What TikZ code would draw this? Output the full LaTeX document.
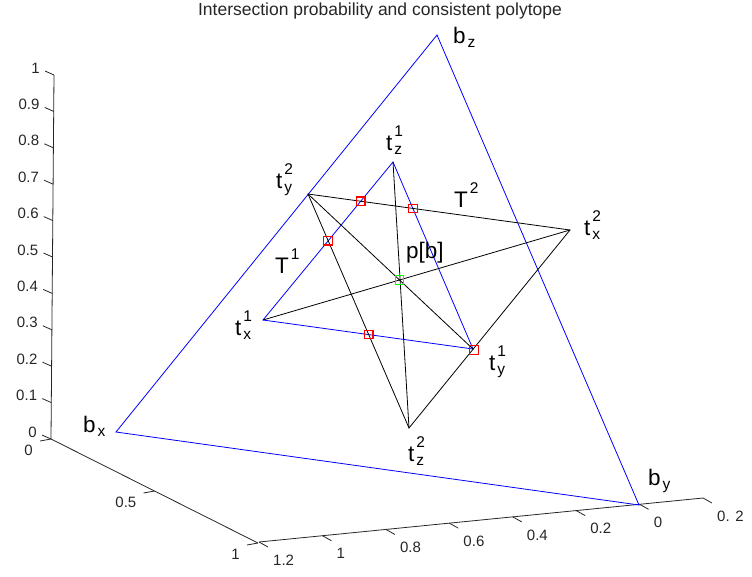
\documentclass[tikz,border=0pt]{standalone}
\usepackage{fontspec}
\setmainfont{Liberation Sans}
\definecolor{edgeblue}{HTML}{0000FF}
\definecolor{hitred}{HTML}{FF0000}
\definecolor{hitgreen}{HTML}{00FF00}
\definecolor{axisgray}{HTML}{262626}
\usetikzlibrary{positioning}
\newcommand\vlab[3]{#1\hspace{2pt}\rlap{\raisebox{13.5pt}{\fontsize{15.5}{15.5}\selectfont #3}}\raisebox{-4pt}{\fontsize{15.5}{15.5}\selectfont #2}}

\begin{document}
\begin{tikzpicture}[
 x=1pt,y=-1pt,
 tri/.style={draw=edgeblue,line width=0.8pt},
 cut/.style={draw=black,line width=0.8pt},
 ax/.style={draw=axisgray,line width=0.8pt},
 hit/.style={rectangle,draw=hitred,line width=1.1pt,minimum size=8.5pt,inner sep=0pt},
 hitp/.style={hit,draw=hitgreen},
 vtx/.style={font=\fontsize{22.5}{22.5}\selectfont,anchor=base west,inner sep=0pt},
 tick/.style={font=\fontsize{15}{15}\selectfont,inner sep=0pt,text=axisgray}]
\useasboundingbox (0,0) rectangle (752,576);
\node[font=\fontsize{17.5}{17.5}\selectfont,text=axisgray,anchor=base] (title) at (380,15) {Intersection probability and consistent polytope};
% axes
\draw[ax] (51,439) -- (54,75);
\foreach \i/\t in {0/0,1/0.1,2/0.2,3/0.3,4/0.4,5/0.5,6/0.6,7/0.7,8/0.8,9/0.9,10/1} {
  \draw[ax] (51+0.3*\i,439-36.4*\i) -- ++(-9,-4);
  \node[tick,anchor=east] (z\i) at (37+0.3*\i,432-36.4*\i) {\t};
}
\draw[ax] (51,439) -- (258,543);
\foreach \i/\t in {0/0,1/0.5,2/1} {
  \draw[ax] (51+103.5*\i,439+52*\i) -- ++(-11,2);
  \node[tick,anchor=north east] (x\i) at (33+103.5*\i,445+52*\i) {\t};
}
\draw[ax] (259,542) -- (703,498);
\foreach \i/\t in {0/1.2,1/1,2/0.8,3/0.6,4/0.4,5/0.2,6/0,7/{0. 2}} {
  \draw[ax] (259+63.43*\i,542-6.286*\i) -- ++(9,5);
  \node[tick,anchor=west] (y\i) at (273+63.43*\i,560-6.286*\i) {\t};
}
% vertices
\coordinate (bx) at (116,432);
\coordinate (by) at (639,505);
\coordinate (bz) at (437,35);
\coordinate (t1x) at (263,320);
\coordinate (t1y) at (473,349);
\coordinate (t1z) at (393,162);
\coordinate (t2x) at (570,230);
\coordinate (t2y) at (308,194);
\coordinate (t2z) at (409,428);
\coordinate (p) at (intersection of t1x--t2x and t2y--t1y);
\draw[tri] (bx) -- (by) -- (bz) -- cycle;
\draw[tri] (t1x) -- (t1y) -- (t1z) -- cycle;
\draw[cut] (t2x) -- (t2y) -- (t2z) -- cycle;
\foreach \a/\b in {t1x/t2x,t2y/t1y,t1z/t2z}
  \draw[cut] (\a) -- (\b);
% intersections
\node[hit] (h1) at (intersection of t1x--t1z and t2y--t2x) {};
\node[hit] (h2) at (intersection of t1z--t1y and t2y--t2x) {};
\node[hit] (h3) at (intersection of t1x--t1z and t2y--t2z) {};
\node[hit] (h4) at (intersection of t1x--t1y and t2y--t2z) {};
\node[hit] (h5) at (474,350) {};
\node[hitp] (pb) at (p) {};
% labels
\node[vtx] (lbz) at (453,43) {\vlab{b}{z}{}};
\node[vtx] (lbx) at (83,432) {\vlab{b}{x}{}};
\node[vtx] (lby) at (648,485) {\vlab{b}{y}{}};
\node[vtx] (lt2y) at (276,188) {\vlab{t}{y}{2}};
\node[vtx] (lt1z) at (386,150) {\vlab{t}{z}{1}};
\node[vtx] (lt2x) at (584,235) {\vlab{t}{x}{2}};
\node[vtx] (lt1x) at (235,335) {\vlab{t}{x}{1}};
\node[vtx] (lt1y) at (489,370) {\vlab{t}{y}{1}};
\node[vtx] (lt2z) at (408,461) {\vlab{t}{z}{2}};
\node[vtx] (lT2) at (454,207) {\vlab{T}{}{2}};
\node[vtx] (lT1) at (275,273) {\vlab{T}{}{1}};
\node[vtx] (lpb) at (406,258) {p[b]};
\end{tikzpicture}
\end{document}
